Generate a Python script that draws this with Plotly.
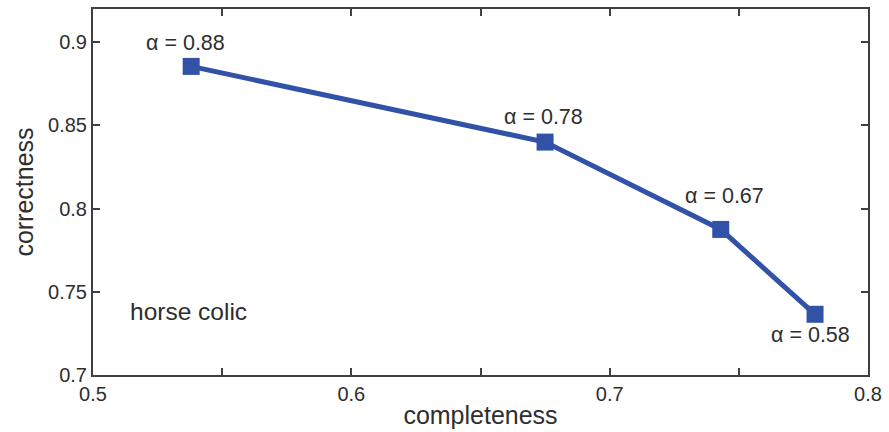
import plotly.graph_objects as go

completeness = [0.538, 0.675, 0.743, 0.7795]
correctness = [0.8855, 0.840, 0.7875, 0.7365]
alpha_labels = ["α = 0.88", "α = 0.78", "α = 0.67", "α = 0.58"]
label_shift_x = [-6, -2, 4, -5]
label_shift_y = [23, 25, 33, -21]
dataset_name = "horse colic"

x_ticks = [0.5, 0.6, 0.7, 0.8]
y_ticks = [0.7, 0.75, 0.8, 0.85, 0.9]

blue = "#3152a6"
txt = "#2e2e2e"
axc = "#404040"
font_family = "Liberation Sans, Arial, sans-serif"

fig = go.Figure()
fig.add_trace(go.Scatter(
    x=completeness, y=correctness, mode="lines+markers",
    line=dict(color=blue, width=5),
    marker=dict(symbol="square", size=17, color=blue),
    showlegend=False, hoverinfo="skip", cliponaxis=False,
))

for xv, yv, lab, dx, dy in zip(completeness, correctness, alpha_labels, label_shift_x, label_shift_y):
    fig.add_annotation(x=xv, y=yv, text=lab, showarrow=False, xshift=dx, yshift=dy,
                       font=dict(size=21.5, color=txt, family=font_family))

fig.add_annotation(x=0.5136, y=0.738, text=dataset_name, showarrow=False,
                   xanchor="left", yanchor="middle",
                   font=dict(size=24.5, color=txt, family=font_family))

common = dict(showgrid=False, zeroline=False, showline=True, linecolor=axc, linewidth=2,
              mirror="ticks", ticks="inside", ticklen=7, tickcolor=axc, tickwidth=2,
              automargin=False,
              tickfont=dict(size=20, color=txt, family=font_family))

fig.update_xaxes(range=[0.5, 0.8], tickvals=[0.5, 0.55, 0.6, 0.65, 0.7, 0.75, 0.8],
                 ticktext=["0.5", "", "0.6", "", "0.7", "", "0.8"],
                 title=dict(text="completeness", font=dict(size=25, color=txt, family=font_family), standoff=2),
                 **common)
fig.update_yaxes(range=[0.7, 0.92], tickvals=y_ticks,
                 ticktext=[str(v) for v in y_ticks],
                 title=dict(text="correctness", font=dict(size=25, color=txt, family=font_family), standoff=7),
                 **common)

fig.update_layout(width=889, height=432, margin=dict(l=93, r=21, t=9, b=57),
                  plot_bgcolor="white", paper_bgcolor="white")

fig.write_html("out.html", config={"displayModeBar": False})

with open("out.html", "r", encoding="utf-8") as f:
    html = f.read()
html = html.replace("<head>", "<head><style>html,body{margin:0;padding:0;overflow:hidden;}</style>", 1)
with open("out.html", "w", encoding="utf-8") as f:
    f.write(html)
